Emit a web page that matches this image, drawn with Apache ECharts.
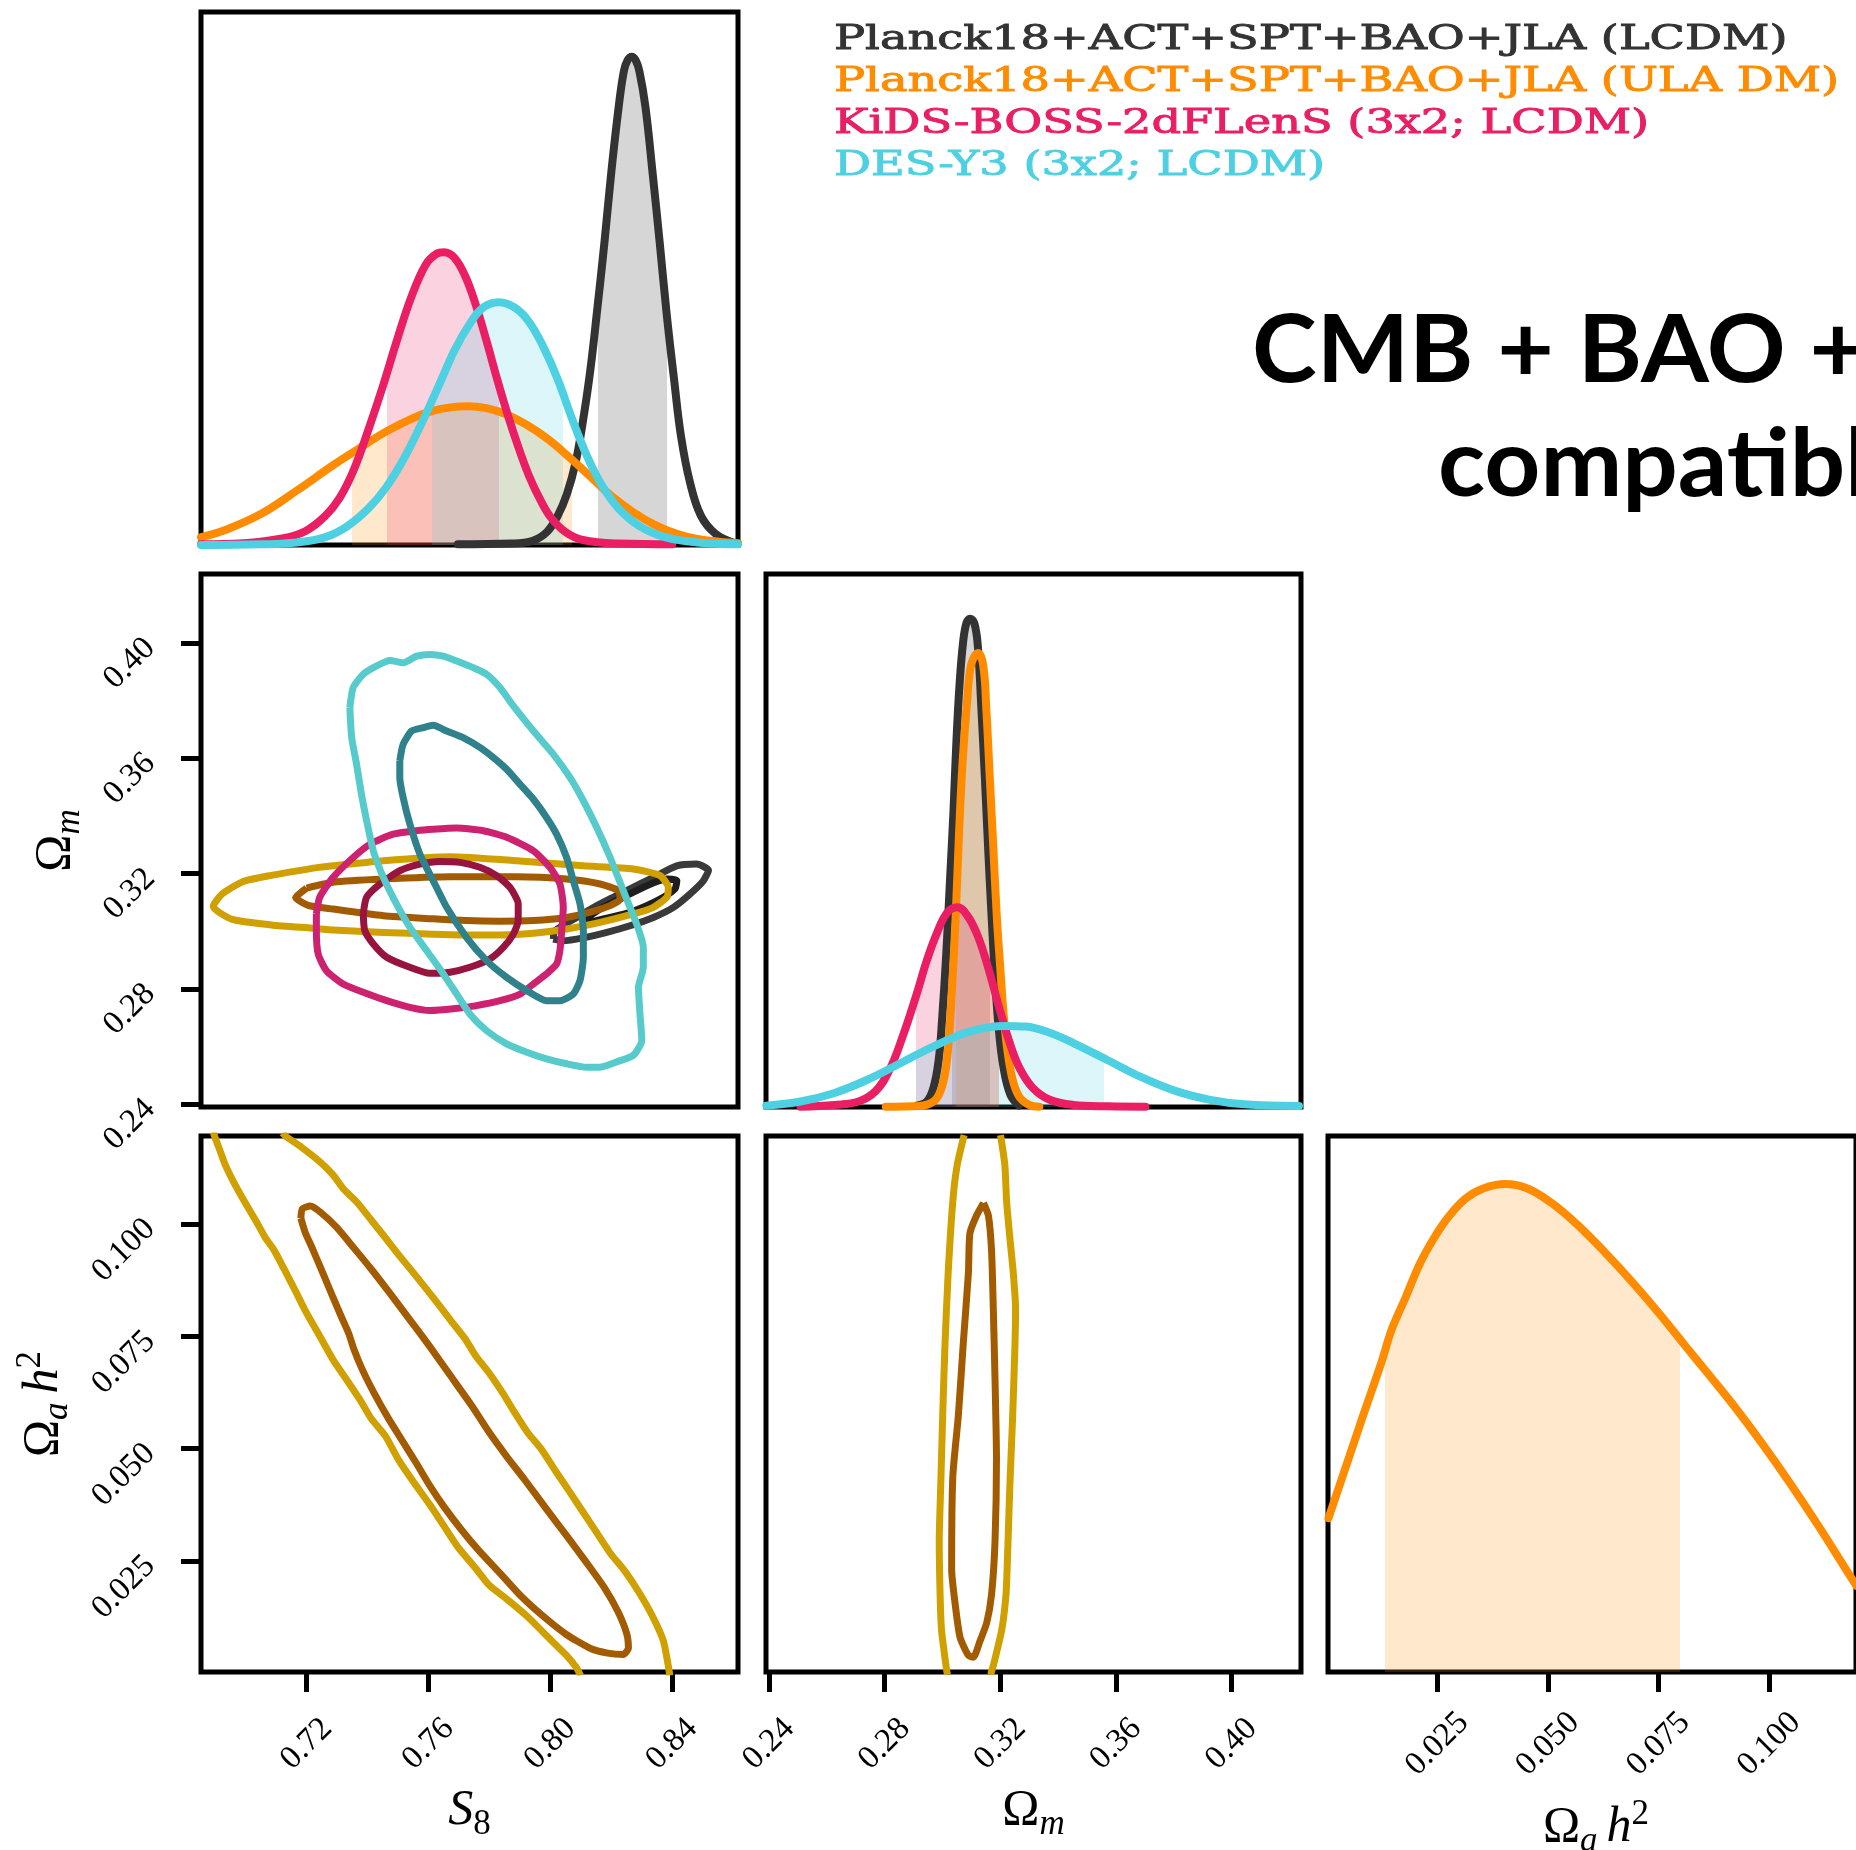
<!DOCTYPE html>
<html>
<head>
<meta charset="utf-8">
<script src="https://cdn.jsdelivr.net/npm/echarts@6/dist/echarts.min.js"></script>
<style>
  html, body { margin: 0; padding: 0; background: #ffffff; }
  #chart { width: 1856px; height: 1850px; }
</style>
</head>
<body>
<div id="chart"></div>
<script>
// ---- axis ranges and tick values ----
const S8_RANGE = [0.6853, 0.8617];
const OM_RANGE = [0.239, 0.424];
const OA_RANGE = [0.0003, 0.1196];
const DENSITY_RANGE = [0, 1];
const S8_TICKS = [0.72, 0.76, 0.80, 0.84];
const OM_TICKS = [0.24, 0.28, 0.32, 0.36, 0.40];
const OA_TICKS = [0.025, 0.050, 0.075, 0.100];

// ---- data sets ----
const legendLabels = [
  'Planck18+ACT+SPT+BAO+JLA (LCDM)',
  'Planck18+ACT+SPT+BAO+JLA (ULA DM)',
  'KiDS-BOSS-2dFLenS (3x2; LCDM)',
  'DES-Y3 (3x2; LCDM)'
];
const titleLines = ['CMB + BAO + SNe', 'compatible'];

// 1D marginal of S8 (peak-normalised height, 0..1 of panel)
const s8Planck = [[0.7697,0.0013],[0.7873,0.0027],[0.7943,0.0081],[0.7990,0.0249],[0.8025,0.0551],[0.8055,0.0955],[0.8084,0.1560],[0.8107,0.2300],[0.8131,0.3241],[0.8154,0.4385],[0.8178,0.5662],[0.8201,0.7007],[0.8225,0.8218],[0.8242,0.8890],[0.8254,0.9092],[0.8268,0.9159],[0.8281,0.9092],[0.8293,0.8890],[0.8313,0.8218],[0.8336,0.7007],[0.8360,0.5662],[0.8383,0.4317],[0.8407,0.3107],[0.8430,0.2031],[0.8460,0.1157],[0.8495,0.0551],[0.8542,0.0215],[0.8600,0.0047],[0.8617,0.0027]];
const s8ULA = [[0.6853,0.0148],[0.6933,0.0282],[0.7051,0.0585],[0.7168,0.1022],[0.7286,0.1493],[0.7368,0.1796],[0.7462,0.2132],[0.7544,0.2367],[0.7614,0.2515],[0.7673,0.2582],[0.7732,0.2603],[0.7790,0.2569],[0.7849,0.2468],[0.7920,0.2266],[0.7990,0.1997],[0.8060,0.1661],[0.8131,0.1291],[0.8201,0.0921],[0.8272,0.0619],[0.8342,0.0383],[0.8413,0.0215],[0.8483,0.0114],[0.8554,0.0061],[0.8617,0.0034]];
const s8KiDS = [[0.6853,0.0013],[0.6992,0.0034],[0.7110,0.0114],[0.7192,0.0249],[0.7262,0.0551],[0.7309,0.0888],[0.7356,0.1426],[0.7403,0.2165],[0.7450,0.2972],[0.7497,0.3847],[0.7544,0.4654],[0.7591,0.5259],[0.7626,0.5461],[0.7652,0.5494],[0.7685,0.5393],[0.7720,0.5057],[0.7755,0.4519],[0.7790,0.3847],[0.7826,0.3107],[0.7861,0.2434],[0.7896,0.1829],[0.7931,0.1291],[0.7967,0.0854],[0.8002,0.0518],[0.8049,0.0249],[0.8107,0.0094],[0.8225,0.0027],[0.8401,0.0013]];
const s8DES = [[0.6853,0.0000],[0.7051,0.0013],[0.7168,0.0047],[0.7262,0.0148],[0.7333,0.0350],[0.7403,0.0686],[0.7462,0.1089],[0.7520,0.1627],[0.7579,0.2300],[0.7638,0.3040],[0.7685,0.3645],[0.7732,0.4116],[0.7779,0.4452],[0.7832,0.4553],[0.7884,0.4452],[0.7931,0.4183],[0.7978,0.3712],[0.8025,0.3107],[0.8072,0.2367],[0.8119,0.1695],[0.8166,0.1157],[0.8225,0.0686],[0.8295,0.0350],[0.8377,0.0148],[0.8483,0.0047],[0.8617,0.0013]];
// 68% intervals of S8
const s8Intervals = [[0.8158,0.8383],[0.7348,0.8072],[0.7465,0.7832],[0.7612,0.8043]];

// 1D marginal of Omega_m
const omPlanck = [[0.2910,0.0026],[0.2946,0.0103],[0.2969,0.0361],[0.2987,0.0877],[0.2999,0.1651],[0.3014,0.2940],[0.3026,0.4230],[0.3038,0.5519],[0.3048,0.6809],[0.3059,0.7905],[0.3072,0.8743],[0.3084,0.9097],[0.3096,0.9162],[0.3111,0.9065],[0.3123,0.8614],[0.3135,0.7453],[0.3147,0.6164],[0.3158,0.4874],[0.3170,0.3585],[0.3182,0.2424],[0.3194,0.1522],[0.3211,0.0748],[0.3235,0.0232],[0.3265,0.0026]];
const omULA = [[0.2804,0.0006],[0.2922,0.0019],[0.2969,0.0103],[0.2993,0.0297],[0.3011,0.0683],[0.3023,0.1328],[0.3034,0.2295],[0.3046,0.3585],[0.3058,0.5197],[0.3070,0.6486],[0.3085,0.7582],[0.3099,0.8291],[0.3123,0.8517],[0.3141,0.8291],[0.3152,0.7453],[0.3164,0.6164],[0.3176,0.4874],[0.3188,0.3585],[0.3200,0.2618],[0.3211,0.1780],[0.3223,0.1135],[0.3241,0.0554],[0.3265,0.0200],[0.3300,0.0039],[0.3335,0.0006]];
const omKiDS = [[0.2509,0.0006],[0.2627,0.0039],[0.2710,0.0103],[0.2769,0.0297],[0.2816,0.0683],[0.2863,0.1328],[0.2910,0.2102],[0.2946,0.2747],[0.2981,0.3262],[0.3017,0.3649],[0.3052,0.3746],[0.3087,0.3585],[0.3123,0.3198],[0.3158,0.2618],[0.3194,0.1908],[0.3229,0.1264],[0.3265,0.0748],[0.3312,0.0361],[0.3371,0.0135],[0.3453,0.0039],[0.3572,0.0013],[0.3702,0.0006]];
const omDES = [[0.2391,0.0026],[0.2509,0.0103],[0.2627,0.0264],[0.2745,0.0522],[0.2863,0.0845],[0.2981,0.1167],[0.3099,0.1425],[0.3217,0.1522],[0.3288,0.1509],[0.3371,0.1393],[0.3453,0.1199],[0.3572,0.0877],[0.3690,0.0554],[0.3808,0.0297],[0.3926,0.0135],[0.4044,0.0052],[0.4233,0.0019]];
const omIntervals = [[0.3034,0.3164],[0.3046,0.3194],[0.2908,0.3194],[0.2908,0.3560]];

// 1D marginal of Omega_a h^2 (ULA run only)
const oaULA = [[0.0004,0.2870],[0.0045,0.3870],[0.0084,0.4826],[0.0124,0.5783],[0.0147,0.6391],[0.0179,0.7000],[0.0210,0.7609],[0.0242,0.8087],[0.0274,0.8478],[0.0313,0.8826],[0.0352,0.9017],[0.0404,0.9104],[0.0455,0.9017],[0.0510,0.8739],[0.0566,0.8348],[0.0629,0.7826],[0.0692,0.7261],[0.0755,0.6652],[0.0810,0.6087],[0.0866,0.5522],[0.0921,0.4957],[0.0984,0.4261],[0.1047,0.3522],[0.1110,0.2739],[0.1180,0.1826],[0.1197,0.1609]];
const oaInterval = [0.0132, 0.0799];

// 2D contours: S8 (x) vs Omega_m (y)
const smPlanckOuter = [[0.8010,0.2973],[0.8016,0.3002],[0.8087,0.3048],[0.8164,0.3095],[0.8251,0.3141],[0.8339,0.3187],[0.8416,0.3227],[0.8481,0.3233],[0.8520,0.3212],[0.8503,0.3175],[0.8459,0.3129],[0.8405,0.3083],[0.8339,0.3048],[0.8262,0.3019],[0.8186,0.2996],[0.8109,0.2977],[0.8043,0.2967]];
const smPlanckInner = [[0.8109,0.3037],[0.8164,0.3077],[0.8240,0.3118],[0.8317,0.3158],[0.8383,0.3181],[0.8416,0.3175],[0.8410,0.3147],[0.8372,0.3118],[0.8317,0.3089],[0.8251,0.3062],[0.8175,0.3043],[0.8120,0.3031]];
const smULAOuter = [[0.7227,0.3220],[0.7287,0.3227],[0.7452,0.3245],[0.7671,0.3259],[0.7890,0.3245],[0.8109,0.3227],[0.8273,0.3216],[0.8361,0.3193],[0.8388,0.3152],[0.8383,0.3118],[0.8339,0.3083],[0.8273,0.3060],[0.8164,0.3031],[0.8054,0.3008],[0.7945,0.2993],[0.7835,0.2987],[0.7725,0.2987],[0.7616,0.2990],[0.7452,0.2996],[0.7287,0.3004],[0.7227,0.3010],[0.7084,0.3022],[0.6956,0.3041],[0.6893,0.3086],[0.6921,0.3128],[0.6990,0.3172],[0.7084,0.3194]];
const smULAInner = [[0.7200,0.3150],[0.7287,0.3170],[0.7452,0.3181],[0.7671,0.3189],[0.7890,0.3189],[0.8054,0.3181],[0.8164,0.3164],[0.8224,0.3141],[0.8230,0.3112],[0.8197,0.3089],[0.8131,0.3066],[0.8054,0.3048],[0.7945,0.3037],[0.7835,0.3035],[0.7725,0.3037],[0.7616,0.3043],[0.7452,0.3054],[0.7287,0.3077],[0.7205,0.3090],[0.7164,0.3117]];
const smKiDSOuter = [[0.7232,0.3060],[0.7243,0.3118],[0.7287,0.3187],[0.7353,0.3256],[0.7408,0.3302],[0.7484,0.3337],[0.7561,0.3349],[0.7616,0.3354],[0.7693,0.3358],[0.7780,0.3349],[0.7857,0.3326],[0.7945,0.3279],[0.7999,0.3222],[0.8032,0.3164],[0.8043,0.3083],[0.8038,0.3002],[0.8032,0.2933],[0.8021,0.2886],[0.7988,0.2852],[0.7945,0.2817],[0.7901,0.2782],[0.7835,0.2759],[0.7758,0.2742],[0.7682,0.2731],[0.7605,0.2725],[0.7539,0.2736],[0.7463,0.2759],[0.7386,0.2788],[0.7320,0.2817],[0.7265,0.2863],[0.7238,0.2921],[0.7232,0.3002]];
const smKiDSInner = [[0.7386,0.3060],[0.7397,0.3118],[0.7441,0.3164],[0.7506,0.3210],[0.7572,0.3233],[0.7638,0.3242],[0.7704,0.3239],[0.7769,0.3222],[0.7824,0.3193],[0.7868,0.3152],[0.7895,0.3095],[0.7895,0.3037],[0.7879,0.2990],[0.7846,0.2944],[0.7802,0.2904],[0.7736,0.2875],[0.7671,0.2858],[0.7605,0.2854],[0.7539,0.2875],[0.7463,0.2910],[0.7419,0.2956],[0.7391,0.3002]];
const smDESOuter = [[0.7342,0.3776],[0.7353,0.3846],[0.7386,0.3892],[0.7430,0.3921],[0.7473,0.3940],[0.7517,0.3932],[0.7561,0.3955],[0.7605,0.3961],[0.7649,0.3955],[0.7693,0.3938],[0.7747,0.3915],[0.7791,0.3892],[0.7835,0.3846],[0.7879,0.3782],[0.7945,0.3695],[0.8010,0.3615],[0.8065,0.3534],[0.8109,0.3453],[0.8153,0.3360],[0.8197,0.3256],[0.8240,0.3141],[0.8284,0.3025],[0.8306,0.2944],[0.8306,0.2875],[0.8290,0.2805],[0.8295,0.2713],[0.8301,0.2621],[0.8273,0.2569],[0.8230,0.2551],[0.8164,0.2528],[0.8120,0.2528],[0.8054,0.2540],[0.7988,0.2557],[0.7923,0.2580],[0.7857,0.2609],[0.7791,0.2655],[0.7736,0.2713],[0.7693,0.2782],[0.7649,0.2852],[0.7594,0.2933],[0.7539,0.3014],[0.7495,0.3095],[0.7452,0.3187],[0.7419,0.3279],[0.7397,0.3384],[0.7380,0.3476],[0.7364,0.3580],[0.7348,0.3672]];
const smDESInner = [[0.7506,0.3591],[0.7517,0.3649],[0.7545,0.3695],[0.7583,0.3707],[0.7616,0.3715],[0.7660,0.3695],[0.7714,0.3672],[0.7769,0.3638],[0.7813,0.3603],[0.7857,0.3562],[0.7901,0.3510],[0.7945,0.3458],[0.7988,0.3395],[0.8021,0.3337],[0.8054,0.3256],[0.8076,0.3175],[0.8098,0.3095],[0.8109,0.3002],[0.8109,0.2910],[0.8098,0.2829],[0.8076,0.2782],[0.8032,0.2759],[0.7988,0.2759],[0.7923,0.2794],[0.7857,0.2840],[0.7791,0.2898],[0.7725,0.2979],[0.7660,0.3083],[0.7616,0.3175],[0.7572,0.3268],[0.7539,0.3372],[0.7517,0.3464],[0.7506,0.3534]];

// 2D contours: S8 (x) vs Omega_a h^2 (y), ULA run
const saOuterLow = [[0.6893,0.1205],[0.6898,0.1195],[0.6915,0.1164],[0.6932,0.1133],[0.6966,0.1086],[0.7001,0.1044],[0.7035,0.1005],[0.7064,0.0970],[0.7092,0.0943],[0.7126,0.0900],[0.7161,0.0854],[0.7195,0.0808],[0.7241,0.0753],[0.7286,0.0699],[0.7332,0.0653],[0.7378,0.0606],[0.7412,0.0567],[0.7458,0.0529],[0.7503,0.0474],[0.7549,0.0428],[0.7606,0.0374],[0.7652,0.0327],[0.7697,0.0281],[0.7755,0.0234],[0.7800,0.0196],[0.7858,0.0165],[0.7926,0.0126],[0.7995,0.0079],[0.8052,0.0041],[0.8086,0.0013],[0.8100,-0.0005]];
const saOuterHigh = [[0.7120,0.1203],[0.7132,0.1195],[0.7183,0.1171],[0.7241,0.1140],[0.7286,0.1110],[0.7321,0.1078],[0.7366,0.1048],[0.7412,0.1009],[0.7458,0.0970],[0.7503,0.0931],[0.7549,0.0893],[0.7595,0.0854],[0.7640,0.0815],[0.7675,0.0784],[0.7720,0.0745],[0.7755,0.0707],[0.7800,0.0668],[0.7846,0.0622],[0.7881,0.0583],[0.7926,0.0536],[0.7972,0.0498],[0.8017,0.0451],[0.8063,0.0405],[0.8109,0.0358],[0.8154,0.0312],[0.8200,0.0265],[0.8246,0.0227],[0.8292,0.0180],[0.8337,0.0126],[0.8372,0.0072],[0.8389,0.0013],[0.8393,-0.0005]];
const saInner = [[0.7181,0.1013],[0.7186,0.1034],[0.7212,0.1040],[0.7246,0.1026],[0.7298,0.0993],[0.7355,0.0947],[0.7412,0.0900],[0.7469,0.0850],[0.7538,0.0788],[0.7606,0.0726],[0.7675,0.0660],[0.7743,0.0595],[0.7800,0.0536],[0.7858,0.0482],[0.7915,0.0432],[0.7983,0.0370],[0.8052,0.0308],[0.8120,0.0246],[0.8177,0.0192],[0.8223,0.0137],[0.8252,0.0087],[0.8257,0.0056],[0.8240,0.0042],[0.8189,0.0045],[0.8131,0.0056],[0.8052,0.0087],[0.7972,0.0130],[0.7904,0.0172],[0.7835,0.0223],[0.7766,0.0273],[0.7709,0.0319],[0.7652,0.0370],[0.7606,0.0416],[0.7561,0.0467],[0.7515,0.0517],[0.7469,0.0567],[0.7423,0.0622],[0.7383,0.0676],[0.7355,0.0722],[0.7338,0.0757],[0.7315,0.0792],[0.7286,0.0838],[0.7252,0.0893],[0.7218,0.0947],[0.7195,0.0982]];

// 2D contours: Omega_m (x) vs Omega_a h^2 (y), ULA run
const maOuterLeft = [[0.3075,0.1198],[0.3051,0.1131],[0.3036,0.1051],[0.3020,0.0892],[0.3009,0.0733],[0.3001,0.0573],[0.2994,0.0414],[0.2989,0.0295],[0.2992,0.0176],[0.2997,0.0096],[0.3015,0.0005],[0.3018,-0.0003]];
const maOuterRight = [[0.3201,0.1198],[0.3216,0.1131],[0.3222,0.1051],[0.3233,0.0971],[0.3245,0.0892],[0.3253,0.0812],[0.3251,0.0733],[0.3243,0.0573],[0.3233,0.0414],[0.3225,0.0255],[0.3220,0.0176],[0.3205,0.0096],[0.3176,0.0017],[0.3170,0.0005],[0.3168,-0.0003]];
const maInner = [[0.3142,0.1047],[0.3118,0.1019],[0.3095,0.0979],[0.3090,0.0892],[0.3072,0.0733],[0.3055,0.0573],[0.3036,0.0438],[0.3032,0.0231],[0.3043,0.0160],[0.3061,0.0080],[0.3090,0.0040],[0.3107,0.0036],[0.3130,0.0072],[0.3153,0.0112],[0.3170,0.0176],[0.3182,0.0295],[0.3187,0.0478],[0.3182,0.0653],[0.3176,0.0812],[0.3170,0.0940],[0.3159,0.1019]];

// ---- styling ----
const lineColors = ['#333333', '#ff8c00', '#e91e63', '#4dd0e1'];
const fillColors = ['rgba(51,51,51,0.2)', 'rgba(255,140,0,0.2)', 'rgba(233,30,99,0.2)', 'rgba(77,208,225,0.2)'];
const contourColors = {
  planck: ['#3a3a3a', '#1e1e1e'],
  ula: ['#d0a000', '#a25b00'],
  kids: ['#cc2270', '#97143f'],
  des: ['#57cbcb', '#2f828b']
};
const SERIF = 'Liberation Serif';
const CURVE_WIDTH = 8;
const CONTOUR_WIDTH = 7;

// math-style axis names: italic symbols, lowered subscripts, raised superscripts
function mathRich(colorKey) {
  const c = {}; c[colorKey] = '#000';
  return {
    it:    Object.assign({ fontFamily: SERIF, fontStyle: 'italic', fontSize: 50, lineHeight: 62 }, c),
    up:    Object.assign({ fontFamily: SERIF, fontSize: 50, lineHeight: 62 }, c),
    sub:   Object.assign({ fontFamily: SERIF, fontSize: 35, lineHeight: 44, verticalAlign: 'bottom' }, c),
    subit: Object.assign({ fontFamily: SERIF, fontStyle: 'italic', fontSize: 35, lineHeight: 44, verticalAlign: 'bottom' }, c),
    sup:   Object.assign({ fontFamily: SERIF, fontSize: 35, lineHeight: 36, verticalAlign: 'top' }, c),
    gap:   { width: 9 }
  };
}
const nameRich = mathRich('color');
const NAME_S8 = '{it|S}{sub|8}';
const NAME_OM = '{up|Ω}{subit|m}';
const NAME_OA = '{up|Ω}{subit|a}{gap| }{it|h}{sup|2}';

// ---- panels ----
const gridBase = { show: true, borderColor: '#000', borderWidth: 5, backgroundColor: 'transparent', containLabel: false };
const grids = [
  { left: 201, top: 12, width: 537, height: 533 },
  { left: 201, top: 574, width: 537, height: 533 },
  { left: 766, top: 574, width: 535, height: 533 },
  { left: 201, top: 1136, width: 537, height: 536 },
  { left: 766, top: 1136, width: 535, height: 536 },
  { left: 1328, top: 1136, width: 536, height: 536 }
].map(g => Object.assign({}, gridBase, g));

function plainAxis(gridIndex, range) {
  return {
    type: 'value', gridIndex, min: range[0], max: range[1],
    axisLine: { show: false, onZero: false },
    axisTick: { show: false }, axisLabel: { show: false }, splitLine: { show: false }
  };
}
function tickedAxis(gridIndex, range, ticks, digits, isX, name, nameGap) {
  const ax = plainAxis(gridIndex, range);
  ax.axisTick = { show: true, inside: false, length: 20, lineStyle: { color: '#000', width: 5 }, customValues: ticks };
  ax.axisLabel = {
    show: true, customValues: ticks, rotate: 45, margin: isX ? 72 : 51,
    formatter: v => Number(v).toFixed(digits),
    fontFamily: SERIF, fontSize: 33, color: '#000'
  };
  if (isX) { ax.axisLabel.align = 'center'; ax.axisLabel.verticalAlign = 'middle'; }
  if (name) {
    ax.name = name;
    ax.nameLocation = 'middle';
    ax.nameGap = nameGap;
    ax.nameTextStyle = { rich: nameRich, align: 'center', verticalAlign: 'middle', color: '#000' };
    if (!isX) ax.nameRotate = 90;
  }
  return ax;
}

const xAxes = [
  plainAxis(0, S8_RANGE),
  plainAxis(1, S8_RANGE),
  plainAxis(2, OM_RANGE),
  tickedAxis(3, S8_RANGE, S8_TICKS, 2, true, NAME_S8, 139),
  tickedAxis(4, OM_RANGE, OM_TICKS, 2, true, NAME_OM, 139),
  tickedAxis(5, OA_RANGE, OA_TICKS, 3, true, null, 0)
];
const yAxes = [
  plainAxis(0, DENSITY_RANGE),
  tickedAxis(1, OM_RANGE, OM_TICKS, 2, false, NAME_OM, 145),
  plainAxis(2, DENSITY_RANGE),
  tickedAxis(3, OA_RANGE, OA_TICKS, 3, false, NAME_OA, 157),
  plainAxis(4, OA_RANGE),
  plainAxis(5, DENSITY_RANGE)
];

const series = [];
const visualMaps = [];

function addMarginal(panel, data, color, fill, interval) {
  // shaded 68% band under the curve
  visualMaps.push({
    type: 'piecewise', show: false, dimension: 0, seriesIndex: series.length,
    pieces: [{ gte: interval[0], lte: interval[1], color: fill }],
    outOfRange: { color: 'rgba(0,0,0,0)' }
  });
  series.push({
    type: 'line', xAxisIndex: panel, yAxisIndex: panel, data, symbol: 'none',
    smooth: 0.4, silent: true, z: 1,
    lineStyle: { width: 0, opacity: 0 }, areaStyle: { opacity: 1 }
  });
  // the curve itself
  series.push({
    type: 'line', xAxisIndex: panel, yAxisIndex: panel, data, symbol: 'none',
    smooth: 0.4, silent: true, z: 3,
    lineStyle: { color, width: CURVE_WIDTH, join: 'round', cap: 'round' }
  });
}
function addContour(panel, pts, color, closed) {
  series.push({
    type: 'line', xAxisIndex: panel, yAxisIndex: panel,
    data: closed ? pts.concat([pts[0]]) : pts,
    symbol: 'none', smooth: 0.2, silent: true, z: 3, clip: true,
    lineStyle: { color, width: CONTOUR_WIDTH, join: 'round' }
  });
}

// S8 marginal
[s8Planck, s8ULA, s8KiDS, s8DES].forEach((d, i) => addMarginal(0, d, lineColors[i], fillColors[i], s8Intervals[i]));
// Omega_m marginal
[omPlanck, omULA, omKiDS, omDES].forEach((d, i) => addMarginal(2, d, lineColors[i], fillColors[i], omIntervals[i]));
// Omega_a h^2 marginal
addMarginal(5, oaULA, lineColors[1], fillColors[1], oaInterval);

// S8 - Omega_m contours
addContour(1, smPlanckOuter, contourColors.planck[0], true);
addContour(1, smPlanckInner, contourColors.planck[1], true);
addContour(1, smULAOuter, contourColors.ula[0], true);
addContour(1, smULAInner, contourColors.ula[1], true);
addContour(1, smKiDSOuter, contourColors.kids[0], true);
addContour(1, smKiDSInner, contourColors.kids[1], true);
addContour(1, smDESOuter, contourColors.des[0], true);
addContour(1, smDESInner, contourColors.des[1], true);
// S8 - Omega_a h^2 contours
addContour(3, saOuterLow, contourColors.ula[0], false);
addContour(3, saOuterHigh, contourColors.ula[0], false);
addContour(3, saInner, contourColors.ula[1], true);
// Omega_m - Omega_a h^2 contours
addContour(4, maOuterLeft, contourColors.ula[0], false);
addContour(4, maOuterRight, contourColors.ula[0], false);
addContour(4, maInner, contourColors.ula[1], true);

// legend block, headline and the bottom-right axis name (which sits at the page edge)
const legendTexts = legendLabels.map((t, i) => ({
  type: 'text', x: 834, y: 40 + i * 42.2, scaleX: 1.36, silent: true,
  style: {
    text: t, font: '34px "DejaVu Serif"', fill: lineColors[i],
    stroke: lineColors[i], lineWidth: 0.9,
    textAlign: 'left', textVerticalAlign: 'middle'
  }
}));
const titleTexts = [
  { type: 'text', x: 1252, y: 352, scaleX: 1.04, silent: true,
    style: { text: titleLines[0], font: 'bold 94px Lato', fill: '#000', textAlign: 'left', textVerticalAlign: 'middle' } },
  { type: 'text', x: 1438, y: 466, scaleX: 1.04, silent: true,
    style: { text: titleLines[1], font: 'bold 94px Lato', fill: '#000', textAlign: 'left', textVerticalAlign: 'middle' } }
];
const oaAxisName = {
  type: 'text', x: 1596, y: 1828, silent: true,
  style: { text: NAME_OA, rich: mathRich('fill'), fill: '#000', textAlign: 'center', textVerticalAlign: 'middle' }
};

const chart = echarts.init(document.getElementById('chart'), null, { renderer: 'canvas' });
chart.setOption({
  animation: false,
  backgroundColor: '#ffffff',
  textStyle: { fontFamily: SERIF },
  grid: grids,
  xAxis: xAxes,
  yAxis: yAxes,
  visualMap: visualMaps,
  series: series,
  graphic: legendTexts.concat(titleTexts, [oaAxisName])
});
</script>
</body>
</html>
